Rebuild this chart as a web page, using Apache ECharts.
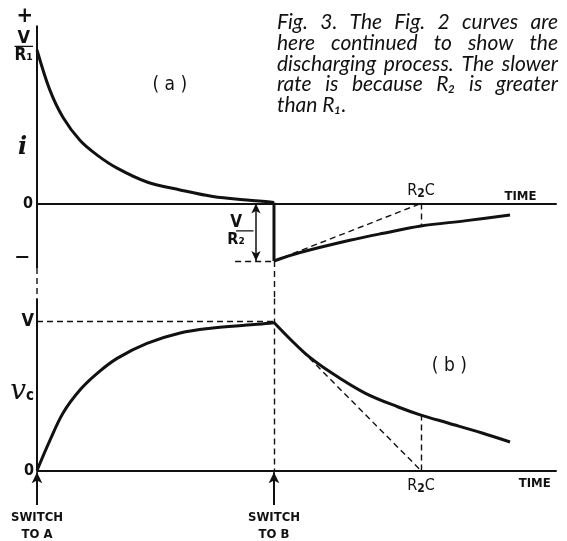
<!DOCTYPE html>
<html>
<head>
<meta charset="utf-8">
<script src="https://cdn.jsdelivr.net/npm/echarts@6/dist/echarts.min.js"></script>
<style>
  html, body { margin: 0; padding: 0; background: #fff; }
  #chart { width: 567px; height: 541px; }
</style>
</head>
<body>
<div id="chart"></div>
<script>
// time in arbitrary units: switch to A at 0, switch to B at 50, R2C reached at 81
var switchTimes = [0, 50];
var switchNames = ['SWITCH\nTO A', 'SWITCH\nTO B'];
var r2cTime = 81;

// (a) current i, in units of V/R1
var chargeCurrent = [[0, 1.0], [2.7, 0.74], [5.5, 0.56], [9.1, 0.41], [12.7, 0.315], [16.9, 0.23],
  [23.2, 0.14], [30.2, 0.088], [37.1, 0.045], [44.3, 0.022], [49.2, 0.01], [50, 0.006]];
var dischargeCurrent = [[50, -0.375], [55.5, -0.32], [66, -0.24], [73.1, -0.194], [81, -0.147],
  [90.6, -0.112], [99.8, -0.075]];
var iTicks = [1.22, 1.02, 0.36, 0, -0.35];
var iTickText = ['{p|+}', '{n|V}\n{hr|}\n{d|R\u2081}', '{it|i}', '{z|0}', '{m|\u2014}'];

// (b) capacitor voltage vc, in units of V
var chargeVoltage = [[0, 0], [2.7, 0.2], [5.5, 0.385], [9.1, 0.54], [12.7, 0.65], [16.9, 0.75],
  [23.2, 0.85], [30.2, 0.92], [37.1, 0.953], [44.3, 0.973], [49.6, 0.987], [50, 0.99]];
var dischargeVoltage = [[50, 0.99], [56.5, 0.786], [62.2, 0.652], [69.2, 0.518], [76.2, 0.425],
  [81, 0.371], [86.7, 0.318], [93.9, 0.251], [99.8, 0.191]];
var vTicks = [1, 0.525, 0];
var vTickText = ['{n|V}', '{v|v}{c|c}', '{z|0}'];

var caption = ['Fig. 3.  The Fig. 2 curves are', 'here continued to show the',
  'discharging process.  The slower', 'rate is because R\u2082 is greater', 'than R\u2081.'];

var ink = '#111';
var labFont = "'DejaVu Sans Condensed', 'DejaVu Sans', sans-serif";
var capFont = 'italic 21px Lato, sans-serif';

var myChart = echarts.init(document.getElementById('chart'), null, { renderer: 'canvas' });

function dash(a, b) {
  return [{ coord: a }, { coord: b }];
}

// justified caption, one text per word
function captionGraphics() {
  var ctx = document.createElement('canvas').getContext('2d');
  ctx.font = capFont;
  var left = 277, right = 558, out = [];
  for (var l = 0; l < caption.length; l++) {
    var words = caption[l].split(' ').filter(function (w) { return w; });
    var widths = words.map(function (w) { return ctx.measureText(w).width; });
    var total = widths.reduce(function (s, w) { return s + w; }, 0);
    var last = l === caption.length - 1;
    var gap = last ? ctx.measureText(' ').width : (right - left - total) / (words.length - 1);
    var x = left;
    for (var i = 0; i < words.length; i++) {
      out.push({
        type: 'text', x: x, y: 12 + l * 20.7, silent: true,
        style: { text: words[i], font: capFont, fill: ink, textAlign: 'left', textVerticalAlign: 'top' }
      });
      x += widths[i] + gap;
    }
  }
  return out;
}

var yRich = {
  p: { fontSize: 22, fontWeight: 'bold', fontFamily: labFont, color: ink, lineHeight: 12 },
  n: { fontSize: 18, fontWeight: 'bold', fontFamily: labFont, color: ink, align: 'center', lineHeight: 17 },
  hr: { width: '100%', height: 0, borderWidth: 1.2, borderColor: ink },
  d: { fontSize: 17, fontWeight: 'bold', fontFamily: labFont, color: ink, align: 'center', lineHeight: 18 },
  it: { fontSize: 24, fontWeight: 'bold', fontStyle: 'italic', fontFamily: "'DejaVu Serif', serif", color: ink, padding: [0, 6, 0, 0] },
  z: { fontSize: 16, fontWeight: 'bold', fontFamily: labFont, color: ink },
  m: { fontSize: 15, fontWeight: 'bold', fontFamily: labFont, color: ink, padding: [0, 4, 0, 0] },
  v: { fontSize: 28, fontStyle: 'italic', fontFamily: "'DejaVu Serif', serif", color: ink },
  c: { fontSize: 15, fontWeight: 'bold', fontFamily: labFont, color: ink, padding: [8, 0, 0, 0] }
};

var textRich = {
  r: { fontSize: 16, fontFamily: labFont, color: ink },
  s: { fontSize: 12, fontWeight: 'bold', fontFamily: labFont, color: ink, padding: [6, 0, 0, 0] },
  t: { fontSize: 13, fontWeight: 'bold', fontFamily: labFont, color: ink },
  b: { fontSize: 19, fontFamily: labFont, color: ink },
  n: { fontSize: 17, fontWeight: 'bold', fontFamily: labFont, color: ink, align: 'center', lineHeight: 17 },
  hr: { width: '100%', height: 0, borderWidth: 1.2, borderColor: ink },
  d: { fontSize: 16, fontWeight: 'bold', fontFamily: labFont, color: ink, align: 'center', lineHeight: 19 }
};

function tag(coord, text, pos, dist) {
  return { coord: coord, value: 0, label: { show: true, position: pos, distance: dist, formatter: text, rich: textRich } };
}

var curve = { type: 'line', symbol: 'none', smooth: 0.35, silent: true,
  lineStyle: { color: ink, width: 3, join: 'round' } };
var dashed = { color: ink, width: 1.4, type: [6, 4] };

function xAx(i) {
  return { type: 'value', gridIndex: i, min: 0, max: 109.5, axisTick: { show: false }, splitLine: { show: false },
    axisLabel: { show: false }, axisLine: { onZero: true, lineStyle: { color: ink, width: 2 } } };
}

option = {
  backgroundColor: '#fff',
  animation: false,
  grid: [
    { left: 37, right: 11, top: 7, height: 291.6, outerBoundsMode: 'none' },
    { left: 37, right: 11, top: 298.6, height: 209.3, outerBoundsMode: 'none' }
  ],
  xAxis: [xAx(0), xAx(1)],
  yAxis: [
    { type: 'value', gridIndex: 0, min: -0.62, max: 1.28, axisLine: { show: false }, axisTick: { show: false },
      splitLine: { show: false },
      axisLabel: { customValues: iTicks, margin: 4, rich: yRich, hideOverlap: false,
        formatter: function (v) { return iTickText[iTicks.indexOf(v)]; } } },
    { type: 'value', gridIndex: 1, min: -0.25, max: 1.15, axisLine: { show: false }, axisTick: { show: false },
      splitLine: { show: false },
      axisLabel: { customValues: vTicks, margin: 3, rich: yRich, hideOverlap: false,
        formatter: function (v) { return vTickText[vTicks.indexOf(v)]; } } }
  ],
  graphic: captionGraphics(),
  series: [
    // panel (a)
    { type: 'line', xAxisIndex: 0, yAxisIndex: 0, symbol: 'none', silent: true, clip: false,
      data: [[0, 1.16], [0, -0.42]], lineStyle: { color: ink, width: 2 } },
    { type: 'line', xAxisIndex: 0, yAxisIndex: 0, symbol: 'none', silent: true, clip: false,
      data: [[0, -0.42], [0, -0.62]], lineStyle: dashed },
    Object.assign({}, curve, { xAxisIndex: 0, yAxisIndex: 0, data: chargeCurrent }),
    { type: 'line', xAxisIndex: 0, yAxisIndex: 0, symbol: 'none', silent: true,
      data: [chargeCurrent[chargeCurrent.length - 1], dischargeCurrent[0]], lineStyle: { color: ink, width: 3 } },
    Object.assign({}, curve, { xAxisIndex: 0, yAxisIndex: 0, data: dischargeCurrent, clip: false,
      markLine: {
        silent: true, symbol: 'none', label: { show: false }, lineStyle: dashed,
        data: [
          dash(dischargeCurrent[0], [r2cTime, 0]),
          dash([r2cTime, 0], dischargeCurrent[4]),
          dash([41.8, dischargeCurrent[0][1]], dischargeCurrent[0]),
          dash([switchTimes[1], dischargeCurrent[0][1]], [switchTimes[1], -0.62]),
          [{ coord: [46.2, 0], symbol: 'arrow', symbolSize: [7, 10], lineStyle: { type: 'solid', width: 1.5 } },
           { coord: [46.2, dischargeCurrent[0][1]], symbol: 'arrow', symbolSize: [7, 10] }]
        ]
      },
      markPoint: {
        silent: true, symbol: 'circle', symbolSize: 0,
        data: [
          tag([r2cTime, 0], '{r|R}{s|2}{r|C}', 'top', 4),
          tag([102, 0], '{t|TIME}', 'top', 0),
          tag([42, -0.185], '{n|V}\n{hr|}\n{d|R\u2082}', 'inside', 0),
          tag([28, 0.77], '{b|( a )}', 'inside', 0)
        ]
      }
    }),
    // panel (b)
    { type: 'line', xAxisIndex: 1, yAxisIndex: 1, symbol: 'none', silent: true, clip: false,
      data: [[0, 0], [0, 1.15]], lineStyle: { color: ink, width: 2 } },
    Object.assign({}, curve, { xAxisIndex: 1, yAxisIndex: 1, data: chargeVoltage }),
    Object.assign({}, curve, { xAxisIndex: 1, yAxisIndex: 1, data: dischargeVoltage, clip: false,
      markLine: {
        silent: true, symbol: 'none', label: { show: false }, lineStyle: dashed,
        data: [
          dash([0, 1], [switchTimes[1], 1]),
          dash([switchTimes[1], 1.15], [switchTimes[1], 0]),
          dash(dischargeVoltage[0], [r2cTime, 0]),
          dash([r2cTime, 0], dischargeVoltage[5])
        ].concat(switchTimes.map(function (t, k) {
          return [{ coord: [t, -0.23], symbol: 'none',
                    lineStyle: { type: 'solid', width: 2 },
                    label: { show: true, position: 'start', distance: 4, formatter: switchNames[k],
                      fontFamily: labFont, fontWeight: 'bold', fontSize: 13, color: ink, lineHeight: 17, align: 'center' } },
                  { coord: [t, -0.012], symbol: 'arrow', symbolSize: [8, 11] }];
        }))
      },
      markPoint: {
        silent: true, symbol: 'circle', symbolSize: 0,
        data: [
          tag([r2cTime, 0], '{r|R}{s|2}{r|C}', 'bottom', 6),
          tag([105, 0], '{t|TIME}', 'bottom', 7),
          tag([87, 0.7], '{b|( b )}', 'inside', 0)
        ]
      }
    })
  ]
};
myChart.setOption(option);
</script>
</body>
</html>
